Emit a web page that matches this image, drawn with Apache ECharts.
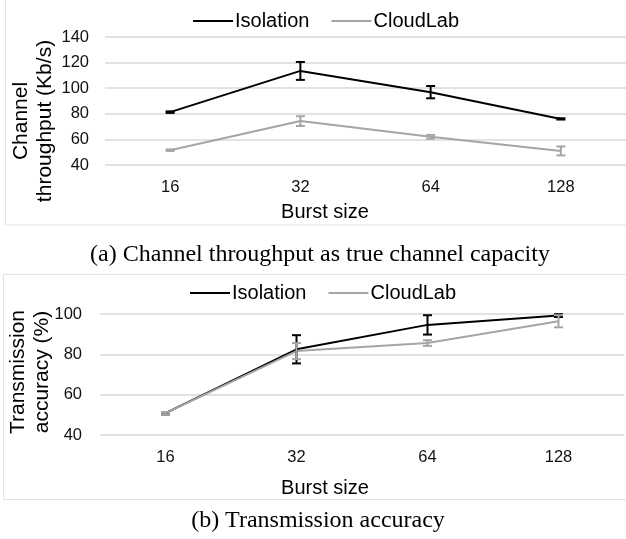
<!DOCTYPE html>
<html>
<head>
<meta charset="utf-8">
<script src="https://cdn.jsdelivr.net/npm/echarts@6/dist/echarts.min.js"></script>
<style>
  html, body { margin: 0; padding: 0; background: #fff; }
  #chart { width: 626px; height: 539px; }
</style>
</head>
<body>
<div id="chart"></div>
<script>
// burst sizes on the x axis
const categories = ['16', '32', '64', '128']
// (a) channel throughput, Kb/s
const isoThroughput = [81.3, 113.5, 96.9, 76]
const isoThroughputErr = [0.6, 7, 4.8, 0.5]
const labThroughput = [51.6, 74.3, 62, 51]
const labThroughputErr = [0.6, 3.8, 1.5, 3.5]
// (b) transmission accuracy, %
const isoAccuracy = [50.8, 82.5, 94.6, 99.2]
const isoAccuracyErr = [0.6, 7, 4.8, 0.7]
const labAccuracy = [50.8, 81.6, 85.6, 96.4]
const labAccuracyErr = [0.6, 4, 1.4, 3]

const BLACK = '#000000'
const GRAY = '#a5a5a5'
const FONT = 'Liberation Sans'

function errorBars (values, errs, color, idx) {
  return {
    type: 'custom',
    xAxisIndex: idx,
    yAxisIndex: idx,
    z: 5,
    silent: true,
    renderItem: function (params, api) {
      const lo = api.coord([api.value(0), api.value(1)])
      const hi = api.coord([api.value(0), api.value(2)])
      const hw = 4.5
      const st = { stroke: color, lineWidth: 2 }
      return {
        type: 'group',
        children: [
          { type: 'line', shape: { x1: lo[0], y1: lo[1], x2: hi[0], y2: hi[1] }, style: st },
          { type: 'line', shape: { x1: lo[0] - hw, y1: lo[1], x2: lo[0] + hw, y2: lo[1] }, style: st },
          { type: 'line', shape: { x1: hi[0] - hw, y1: hi[1], x2: hi[0] + hw, y2: hi[1] }, style: st }
        ]
      }
    },
    encode: { x: 0, y: [1, 2] },
    data: values.map((v, i) => [i, v - errs[i], v + errs[i]])
  }
}

function lineSeries (name, values, color, idx) {
  return {
    name: name,
    type: 'line',
    xAxisIndex: idx,
    yAxisIndex: idx,
    data: values,
    symbol: 'none',
    lineStyle: { color: color, width: 2 },
    itemStyle: { color: color }
  }
}

function xAxisOf (idx) {
  return {
    type: 'category',
    gridIndex: idx,
    data: categories,
    boundaryGap: true,
    axisLine: { show: false },
    axisTick: { show: false },
    axisLabel: { margin: 14, fontSize: 16.5, fontFamily: FONT, color: '#111' }
  }
}

function yAxisOf (idx, min, max, margin) {
  return {
    type: 'value',
    gridIndex: idx,
    min: min,
    max: max,
    interval: 20,
    axisLine: { show: false },
    axisTick: { show: false },
    axisLabel: { margin: margin, fontSize: 16.5, fontFamily: FONT, color: '#111' },
    splitLine: { lineStyle: { color: '#d9d9d9', width: 1.5 } }
  }
}

function legendOf (top, left) {
  return {
    top: top,
    left: left,
    icon: 'rect',
    itemWidth: 40,
    itemHeight: 2,
    itemGap: 22,
    textStyle: { fontSize: 20, fontFamily: FONT, color: '#000', padding: [0, 0, 0, -3] },
    data: ['Isolation', 'CloudLab']
  }
}

const txt = (x, y, text, size, extra) => Object.assign({
  type: 'text',
  x: x,
  y: y,
  style: {
    text: text,
    fontSize: size,
    lineHeight: 24,
    fontFamily: FONT,
    fill: '#000',
    textAlign: 'center',
    textVerticalAlign: 'middle'
  }
}, extra || {})

const chart = echarts.init(document.getElementById('chart'))
chart.setOption({
  animation: false,
  backgroundColor: '#fff',
  legend: [legendOf(6, 188), legendOf(278, 185)],
  grid: [
    { left: 105, top: 37, width: 524, height: 128 },
    { left: 100, top: 314, width: 524, height: 121 }
  ],
  xAxis: [xAxisOf(0), xAxisOf(1)],
  yAxis: [yAxisOf(0, 40, 140, 16), yAxisOf(1, 40, 100, 18)],
  series: [
    lineSeries('Isolation', isoThroughput, BLACK, 0),
    lineSeries('CloudLab', labThroughput, GRAY, 0),
    errorBars(isoThroughput, isoThroughputErr, BLACK, 0),
    errorBars(labThroughput, labThroughputErr, GRAY, 0),
    lineSeries('Isolation', isoAccuracy, BLACK, 1),
    lineSeries('CloudLab', labAccuracy, GRAY, 1),
    errorBars(isoAccuracy, isoAccuracyErr, BLACK, 1),
    errorBars(labAccuracy, labAccuracyErr, GRAY, 1)
  ],
  graphic: [
    // chart frames
    { type: 'rect', shape: { x: 5.5, y: -1, width: 630, height: 226 }, style: { fill: 'none', stroke: '#e3e3e3', lineWidth: 1 }, silent: true },
    { type: 'rect', shape: { x: 3.5, y: 274.5, width: 630, height: 225 }, style: { fill: 'none', stroke: '#e3e3e3', lineWidth: 1 }, silent: true },
    // axis titles
    txt(33.5, 121, 'Channel\nthroughput (Kb/s)', 21, { rotation: Math.PI / 2 }),
    txt(30.5, 372, 'Transmission\naccuracy (%)', 21, { rotation: Math.PI / 2 }),
    txt(325, 212, 'Burst size', 20),
    txt(325, 488, 'Burst size', 20),
    // captions
    {
      type: 'text', x: 320, y: 255,
      style: { text: '(a) Channel throughput as true channel capacity', fontSize: 24, fontFamily: 'Liberation Serif', fill: '#000', textAlign: 'center', textVerticalAlign: 'middle' }
    },
    {
      type: 'text', x: 318, y: 521,
      style: { text: '(b) Transmission accuracy', fontSize: 24, fontFamily: 'Liberation Serif', fill: '#000', textAlign: 'center', textVerticalAlign: 'middle' }
    }
  ]
})
</script>
</body>
</html>
